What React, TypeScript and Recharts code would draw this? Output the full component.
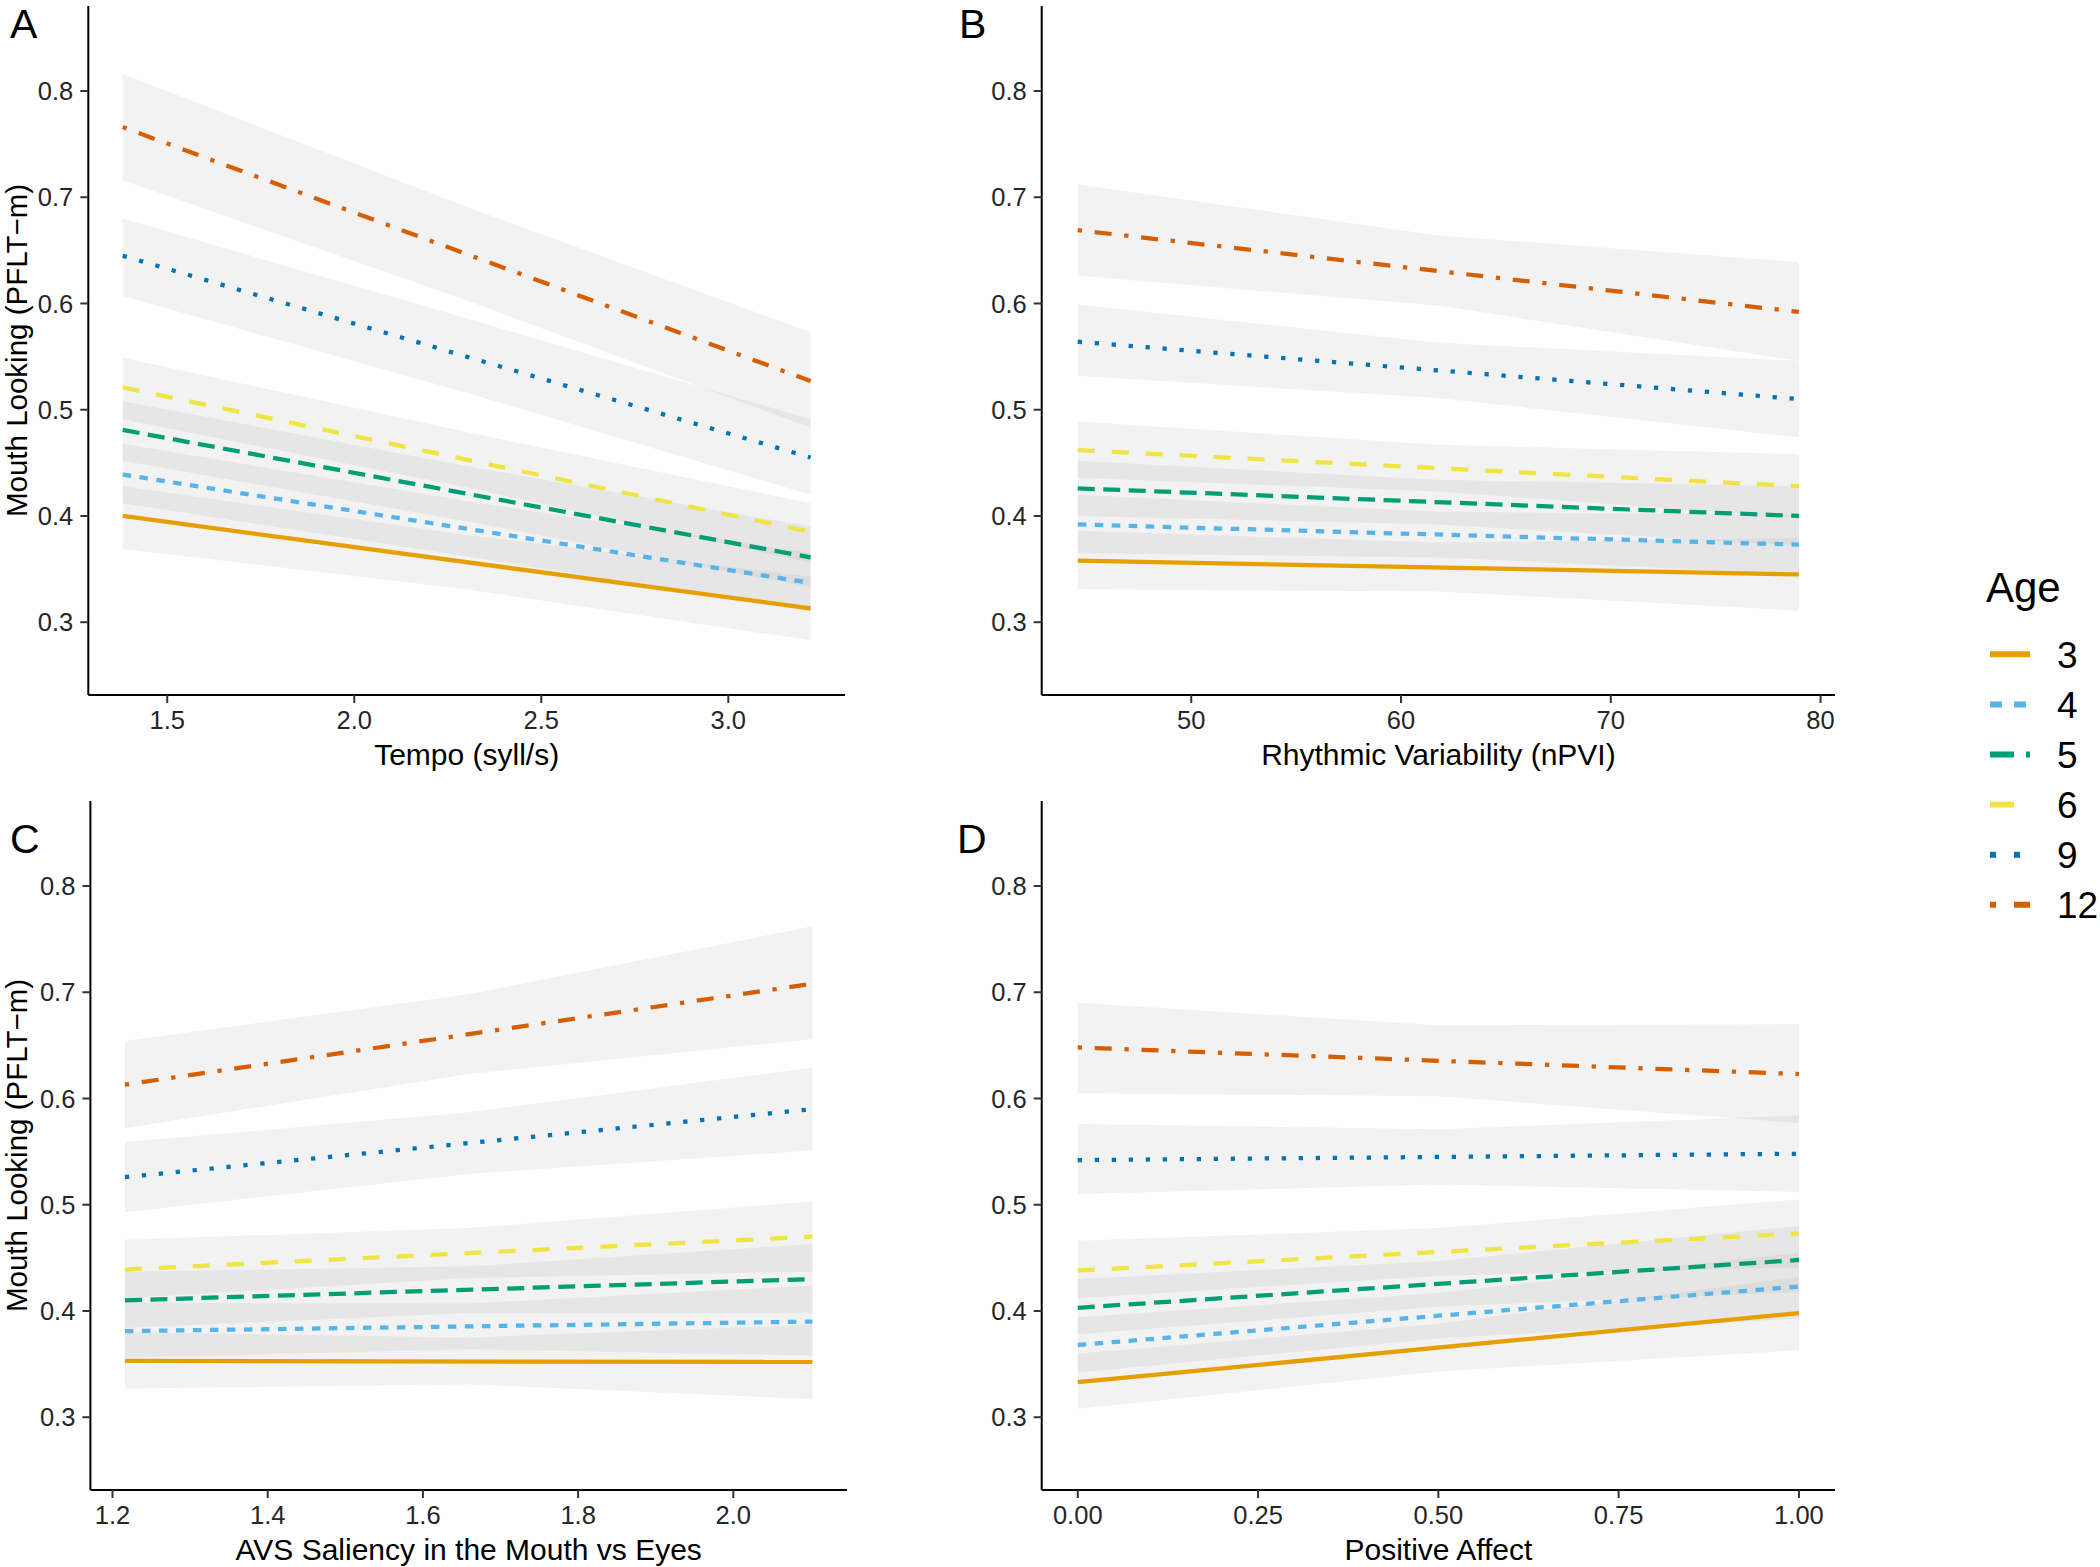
import React from "react";
import { ComposedChart, Area, Line, XAxis, YAxis } from "recharts";

// age groups, Okabe-Ito colours, ggplot-style dash units
const AGES = ["3", "4", "5", "6", "9", "12"];
const AGE_COLORS = ["#E69F00", "#56B4E9", "#009E73", "#F0E442", "#0072B2", "#D55E00"];
const AGE_DASH = [[], [2, 2], [4, 2], [4, 4], [1, 3], [1, 3, 4, 3]];

const Y_TICKS = [0.3, 0.4, 0.5, 0.6, 0.7, 0.8];
const Y_DOMAIN = [0.2315, 0.88];

// A: tempo
const tempoX = [1.381, 2.3, 3.22];
const tempoTicks = [1.5, 2.0, 2.5, 3.0];
const tempoLineStart = [0.4, 0.439, 0.481, 0.521, 0.645, 0.766];
const tempoLineEnd = [0.313, 0.337, 0.361, 0.385, 0.455, 0.527];
const tempoLow = [
  [0.369, 0.331, 0.283],
  [0.412, 0.362, 0.31],
  [0.452, 0.395, 0.333],
  [0.491, 0.427, 0.356],
  [0.607, 0.516, 0.42],
  [0.716, 0.603, 0.483],
];
const tempoHigh = [
  [0.428, 0.382, 0.343],
  [0.468, 0.414, 0.365],
  [0.508, 0.447, 0.39],
  [0.549, 0.479, 0.412],
  [0.68, 0.586, 0.491],
  [0.816, 0.691, 0.573],
];

// B: rhythmic variability
const npviX = [44.59, 61.78, 78.97];
const npviTicks = [50, 60, 70, 80];
const npviLineStart = [0.358, 0.392, 0.426, 0.462, 0.564, 0.669];
const npviLineEnd = [0.345, 0.373, 0.4, 0.428, 0.51, 0.592];
const npviLow = [
  [0.331, 0.329, 0.311],
  [0.365, 0.361, 0.345],
  [0.4, 0.392, 0.372],
  [0.436, 0.423, 0.398],
  [0.532, 0.511, 0.474],
  [0.626, 0.598, 0.546],
];
const npviHigh = [
  [0.386, 0.375, 0.379],
  [0.42, 0.404, 0.401],
  [0.452, 0.434, 0.428],
  [0.489, 0.467, 0.458],
  [0.599, 0.563, 0.546],
  [0.712, 0.664, 0.639],
];

// C: AVS saliency
const avsX = [1.216, 1.659, 2.102];
const avsTicks = [1.2, 1.4, 1.6, 1.8, 2.0];
const avsLineStart = [0.353, 0.381, 0.41, 0.439, 0.526, 0.613];
const avsLineEnd = [0.352, 0.39, 0.43, 0.47, 0.59, 0.708];
const avsLow = [
  [0.327, 0.331, 0.317],
  [0.356, 0.364, 0.358],
  [0.384, 0.398, 0.398],
  [0.412, 0.431, 0.437],
  [0.493, 0.529, 0.551],
  [0.572, 0.623, 0.656],
];
const avsHigh = [
  [0.38, 0.375, 0.387],
  [0.408, 0.407, 0.424],
  [0.437, 0.442, 0.463],
  [0.467, 0.478, 0.503],
  [0.559, 0.587, 0.629],
  [0.654, 0.698, 0.762],
];

// D: positive affect
const affectX = [0, 0.5, 1];
const affectTicks = [0, 0.25, 0.5, 0.75, 1];
const affectLineStart = [0.333, 0.368, 0.403, 0.438, 0.542, 0.648];
const affectLineEnd = [0.398, 0.423, 0.448, 0.473, 0.548, 0.623];
const affectLow = [
  [0.308, 0.343, 0.363],
  [0.342, 0.374, 0.393],
  [0.378, 0.404, 0.418],
  [0.412, 0.433, 0.441],
  [0.51, 0.519, 0.512],
  [0.605, 0.602, 0.577],
];
const affectHigh = [
  [0.36, 0.388, 0.432],
  [0.394, 0.417, 0.455],
  [0.43, 0.447, 0.48],
  [0.466, 0.478, 0.505],
  [0.576, 0.571, 0.584],
  [0.69, 0.669, 0.67],
];

const FONT = "'Liberation Sans', Arial, Helvetica, sans-serif";
const LINE_W = 4.25;
const KEY_W = 6;

function dash(i: number, unit: number) {
  const d = AGE_DASH[i];
  return d.length ? d.map((v) => v * unit).join(" ") : undefined;
}

function buildRows(xs: number[], start: number[], end: number[], low: number[][], high: number[][]) {
  return xs.map((x, i) => {
    const row: any = { x };
    AGES.forEach((age, j) => {
      row["b" + age] = [low[j][i], high[j][i]];
      row["l" + age] = i === 0 ? start[j] : i === xs.length - 1 ? end[j] : null;
    });
    return row;
  });
}

interface PanelProps {
  left: number;
  top: number;
  width: number;
  height: number;
  yWidth: number;
  right: number;
  xHeight: number;
  rows: any[];
  xDomain: number[];
  xTicks: number[];
  fmt: (v: number) => string;
}

function Panel(p: PanelProps) {
  const tickStyle = { fontSize: 25.5, fill: "#262626", fontFamily: FONT };
  return (
    <div style={{ position: "absolute", left: p.left, top: p.top }}>
      <ComposedChart
        width={p.width}
        height={p.height}
        data={p.rows}
        margin={{ top: 6, right: p.right, left: 0, bottom: 0 }}
      >
        <XAxis
          type="number"
          dataKey="x"
          domain={p.xDomain}
          ticks={p.xTicks}
          allowDataOverflow
          tickFormatter={p.fmt}
          height={p.xHeight}
          tick={tickStyle}
          tickSize={8}
          tickMargin={8}
          axisLine={{ stroke: "#000", strokeWidth: 2 }}
          tickLine={{ stroke: "#333", strokeWidth: 2 }}
        />
        <YAxis
          type="number"
          domain={Y_DOMAIN}
          ticks={Y_TICKS}
          allowDataOverflow
          tickFormatter={(v: number) => v.toFixed(1)}
          width={p.yWidth}
          tick={tickStyle}
          tickSize={8}
          tickMargin={7}
          axisLine={{ stroke: "#000", strokeWidth: 2 }}
          tickLine={{ stroke: "#333", strokeWidth: 2 }}
        />
        {AGES.map((age) => (
          <Area
            key={"b" + age}
            type="linear"
            dataKey={"b" + age}
            stroke="none"
            fill="#999999"
            fillOpacity={0.13}
            isAnimationActive={false}
          />
        ))}
        {AGES.map((age, i) => (
          <Line
            key={"l" + age}
            type="linear"
            dataKey={"l" + age}
            stroke={AGE_COLORS[i]}
            strokeWidth={LINE_W}
            strokeDasharray={dash(i, LINE_W)}
            dot={false}
            activeDot={false}
            connectNulls
            isAnimationActive={false}
          />
        ))}
      </ComposedChart>
    </div>
  );
}

const Y_TITLE = "Mouth Looking (PFLT\u2212m)";

export default function App() {
  const rowsA = buildRows(tempoX, tempoLineStart, tempoLineEnd, tempoLow, tempoHigh);
  const rowsB = buildRows(npviX, npviLineStart, npviLineEnd, npviLow, npviHigh);
  const rowsC = buildRows(avsX, avsLineStart, avsLineEnd, avsLow, avsHigh);
  const rowsD = buildRows(affectX, affectLineStart, affectLineEnd, affectLow, affectHigh);

  return (
    <div
      style={{
        position: "absolute",
        left: 0,
        top: 0,
        width: 2100,
        height: 1567,
        overflow: "hidden",
        background: "#fff",
      }}
    >
      <Panel left={0} top={0} width={960} height={790} yWidth={88.3} right={115} xHeight={95}
        rows={rowsA} xDomain={[1.289, 3.312]} xTicks={tempoTicks} fmt={(v) => v.toFixed(1)} />
      <Panel left={960} top={0} width={1000} height={790} yWidth={81.7} right={125} xHeight={95}
        rows={rowsB} xDomain={[42.87, 80.69]} xTicks={npviTicks} fmt={(v) => String(v)} />
      <Panel left={0} top={795} width={960} height={772} yWidth={90.4} right={113} xHeight={77}
        rows={rowsC} xDomain={[1.1715, 2.1465]} xTicks={avsTicks} fmt={(v) => v.toFixed(1)} />
      <Panel left={960} top={795} width={1000} height={772} yWidth={81.7} right={125} xHeight={77}
        rows={rowsD} xDomain={[-0.05, 1.05]} xTicks={affectTicks} fmt={(v) => v.toFixed(2)} />

      <svg
        width={2100}
        height={1567}
        style={{ position: "absolute", left: 0, top: 0, pointerEvents: "none" }}
        fontFamily={FONT}
      >
        <text x={10} y={38} fontSize={41}>A</text>
        <text x={959} y={38} fontSize={41}>B</text>
        <text x={10} y={853} fontSize={41}>C</text>
        <text x={957} y={853} fontSize={41}>D</text>

        <text x={466.7} y={765} fontSize={30} textAnchor="middle">Tempo (syll/s)</text>
        <text x={1438.4} y={765} fontSize={30} textAnchor="middle">Rhythmic Variability (nPVI)</text>
        <text x={468.7} y={1560} fontSize={30} textAnchor="middle">AVS Saliency in the Mouth vs Eyes</text>
        <text x={1438.4} y={1560} fontSize={30} textAnchor="middle">Positive Affect</text>

        <text x={27} y={350.5} fontSize={29.5} textAnchor="middle" transform="rotate(-90 27 350.5)">
          {Y_TITLE}
        </text>
        <text x={27} y={1145.5} fontSize={29.5} textAnchor="middle" transform="rotate(-90 27 1145.5)">
          {Y_TITLE}
        </text>

        <text x={1986} y={601.7} fontSize={42}>Age</text>
        {AGES.map((age, i) => {
          const cy = 654.3 + i * 50.1;
          return (
            <g key={age}>
              <line
                x1={1990}
                x2={2030}
                y1={cy}
                y2={cy}
                stroke={AGE_COLORS[i]}
                strokeWidth={KEY_W}
                strokeDasharray={dash(i, KEY_W)}
              />
              <text x={2057} y={cy + 13.3} fontSize={37}>{age}</text>
            </g>
          );
        })}
      </svg>
    </div>
  );
}
